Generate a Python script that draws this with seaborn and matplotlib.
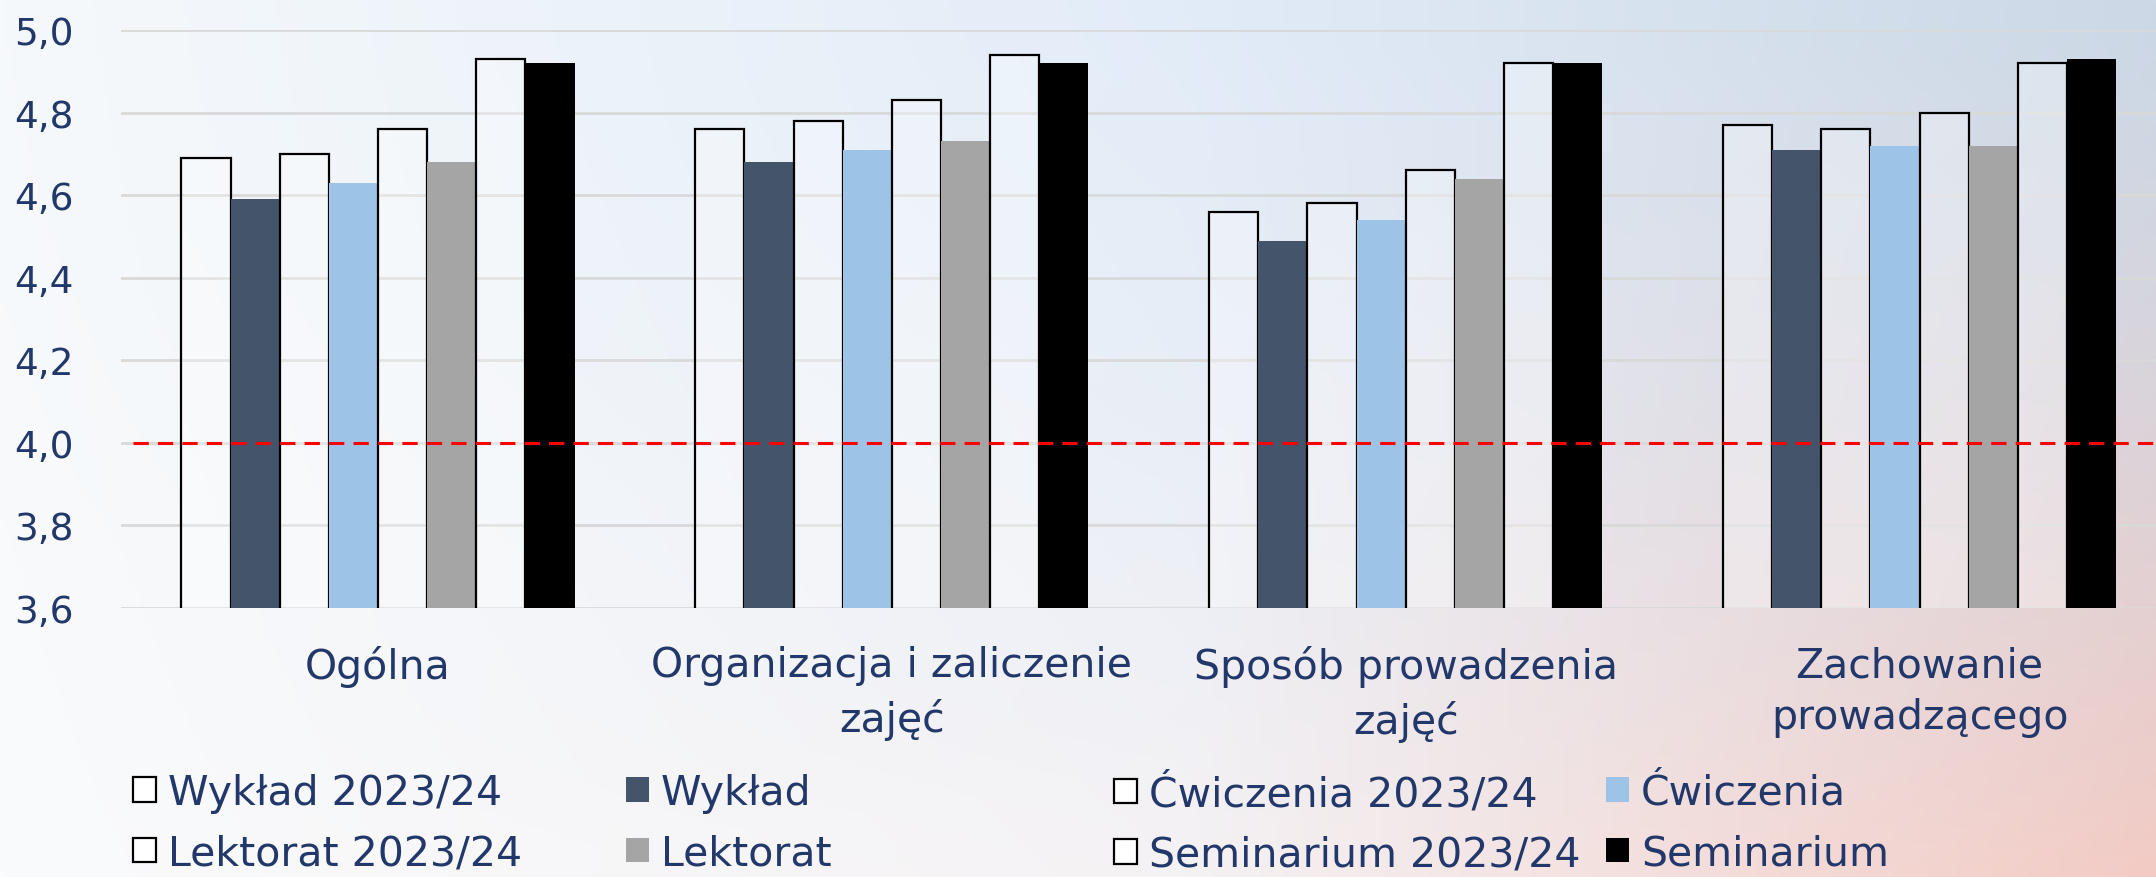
import numpy as np
import pandas as pd
import matplotlib
matplotlib.use("Agg")
import matplotlib.pyplot as plt
import seaborn as sns
from matplotlib.patches import Patch

# ---------------- data ----------------
categories = ["Ogólna", "Organizacja i zaliczenie\nzajęć",
              "Sposób prowadzenia\nzajęć", "Zachowanie\nprowadzącego"]
series = ["Wykład 2023/24", "Wykład", "Ćwiczenia 2023/24", "Ćwiczenia",
          "Lektorat 2023/24", "Lektorat", "Seminarium 2023/24", "Seminarium"]

wyklad_2324 = [4.69, 4.76, 4.56, 4.77]
wyklad = [4.59, 4.68, 4.49, 4.71]
cwiczenia_2324 = [4.70, 4.78, 4.58, 4.76]
cwiczenia = [4.63, 4.71, 4.54, 4.72]
lektorat_2324 = [4.76, 4.83, 4.66, 4.80]
lektorat = [4.68, 4.73, 4.64, 4.72]
seminarium_2324 = [4.93, 4.94, 4.92, 4.92]
seminarium = [4.92, 4.92, 4.92, 4.93]

threshold = 4.0
y_ticks = [3.6, 3.8, 4.0, 4.2, 4.4, 4.6, 4.8, 5.0]
y_tick_labels = ["3,6", "3,8", "4,0", "4,2", "4,4", "4,6", "4,8", "5,0"]

values = [wyklad_2324, wyklad, cwiczenia_2324, cwiczenia,
          lektorat_2324, lektorat, seminarium_2324, seminarium]

rows = []
for s, vals in zip(series, values):
    for c, v in zip(categories, vals):
        rows.append({"kategoria": c, "seria": s, "ocena": v})
df = pd.DataFrame(rows)

# ---------------- style ----------------
TEXT = "#22386A"
palette = {
    "Wykład 2023/24": "white", "Wykład": "#44546A",
    "Ćwiczenia 2023/24": "white", "Ćwiczenia": "#9DC3E6",
    "Lektorat 2023/24": "white", "Lektorat": "#A5A5A5",
    "Seminarium 2023/24": "white", "Seminarium": "#000000",
}
sns.set_style("white")
plt.rcParams["font.family"] = ["DejaVu Sans"]
FS_TICK = 27
FS = 29.5

W, H = 2156, 878
fig = plt.figure(figsize=(W / 100, H / 100), dpi=100)

# background gradient (decoration)
bg = fig.add_axes([0, 0, 1, 1], zorder=-10)
nx, ny = 400, 160
xx, yy = np.meshgrid(np.linspace(0, 1, nx), np.linspace(0, 1, ny))
tl = np.array([246, 249, 251]) / 255
tr = np.array([204, 216, 230]) / 255
bl = np.array([250, 251, 252]) / 255
br = np.array([243, 203, 196]) / 255
tm = np.array([226, 236, 248]) / 255
bm = np.array([245, 242, 244]) / 255
img = np.zeros((ny, nx, 3))
split = 0.55
for k in range(3):
    left = np.clip(xx / split, 0, 1)
    right = np.clip((xx - split) / (1 - split), 0, 1)
    top = np.where(xx < split, tl[k] * (1 - left) + tm[k] * left,
                   tm[k] * (1 - right) + tr[k] * right)
    bot = np.where(xx < split, bl[k] * (1 - left) + bm[k] * left,
                   bm[k] * (1 - right) + br[k] * right)
    img[..., k] = top * (1 - yy ** 1.3) + bot * yy ** 1.3
bg.imshow(img, aspect="auto", extent=[0, 1, 0, 1], origin="upper")
bg.axis("off")

ax = fig.add_axes([121 / W, 1 - 609 / H, 1 - 121 / W, (609 - 31) / H])
ax.set_facecolor("none")

sns.barplot(data=df, x="kategoria", y="ocena", hue="seria",
            order=categories, hue_order=series, palette=palette,
            width=0.765, gap=0, saturation=1, legend=False,
            linewidth=0, ax=ax, zorder=3)

for s, cont in zip(series, ax.containers):
    for bar in cont:
        if s.endswith("2023/24"):
            bar.set_facecolor((1, 1, 1, 0.3))
            bar.set_edgecolor("black")
            bar.set_linewidth(1.6)
        else:
            bar.set_edgecolor("none")

ax.set_ylim(3.6, 5.0)
ax.set_xlim(-0.5, 3.46)
ax.set_yticks(y_ticks)
ax.set_yticklabels(y_tick_labels, fontsize=FS_TICK, color=TEXT)
ax.tick_params(axis="y", length=0, pad=34)
ax.tick_params(axis="x", length=0, pad=27, labelsize=FS, labelcolor=TEXT)
for lab in ax.get_xticklabels():
    lab.set_linespacing(1.38)
ax.set_xlabel("")
ax.set_ylabel("")
ax.grid(axis="y", color="#D9D9D9", linewidth=2.0, zorder=0)
ax.grid(axis="x", visible=False)
for sp in ax.spines.values():
    sp.set_visible(False)

ax.axhline(threshold, xmin=0.006, xmax=1, color="#FF0000", linewidth=2.2,
           linestyle=(0, (5.0, 3.0)), zorder=5)

# legend: four equal-width columns
cols = [[0, 4], [1, 5], [2, 6], [3, 7]]
col_x = [133, 626, 1114, 1606]
for xi, idxs in zip(col_x, cols):
    handles = []
    for i in idxs:
        s = series[i]
        if s.endswith("2023/24"):
            handles.append(Patch(facecolor="white", edgecolor="black",
                                 linewidth=1.6, label=s))
        else:
            handles.append(Patch(facecolor=palette[s], edgecolor="none", label=s))
    fig.legend(handles=handles, loc="upper left",
               bbox_to_anchor=(xi / W, 1 - 774 / H), frameon=False,
               fontsize=FS, handlelength=0.55, handleheight=0.55,
               handletextpad=0.3, borderpad=0, borderaxespad=0,
               labelspacing=0.5, labelcolor=TEXT)

fig.savefig("out.png", dpi=100)
